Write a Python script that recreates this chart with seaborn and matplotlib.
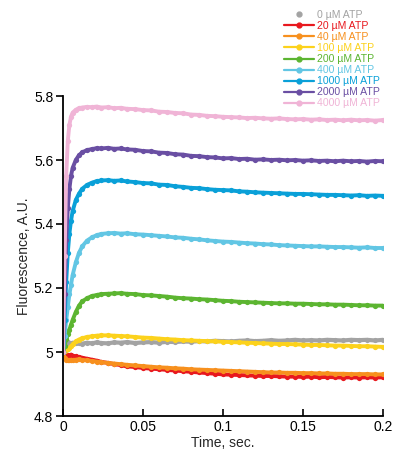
import matplotlib
matplotlib.use("Agg")
import matplotlib.pyplot as plt
from matplotlib.lines import Line2D
import seaborn as sns
import pandas as pd

time_s = [0, 0.001, 0.002, 0.003, 0.004, 0.005, 0.006, 0.008, 0.010, 0.012,
          0.015, 0.018, 0.021, 0.024, 0.028, 0.032, 0.036, 0.040, 0.045, 0.050,
          0.055, 0.060, 0.065, 0.070, 0.075, 0.080, 0.085, 0.090, 0.095, 0.100,
          0.105, 0.110, 0.115, 0.120, 0.125, 0.130, 0.135, 0.140, 0.145, 0.150,
          0.155, 0.160, 0.165, 0.170, 0.175, 0.180, 0.185, 0.190, 0.195, 0.200]

atp_0 = [5.000, 5.022, 5.027, 5.030, 5.028, 5.026, 5.029, 5.027, 5.028, 5.026,
         5.029, 5.027, 5.030, 5.028, 5.027, 5.030, 5.029, 5.031, 5.028, 5.030,
         5.031, 5.029, 5.032, 5.031, 5.033, 5.032, 5.034, 5.033, 5.035, 5.034,
         5.033, 5.035, 5.036, 5.034, 5.035, 5.037, 5.035, 5.036, 5.038, 5.036,
         5.037, 5.036, 5.038, 5.037, 5.036, 5.038, 5.037, 5.038, 5.036, 5.038]
atp_20 = [5.000, 4.995, 4.992, 4.990, 4.989, 4.992, 4.988, 4.986, 4.984, 4.982,
          4.979, 4.976, 4.973, 4.969, 4.966, 4.962, 4.959, 4.955, 4.953, 4.950,
          4.948, 4.946, 4.944, 4.942, 4.940, 4.938, 4.936, 4.934, 4.932, 4.930,
          4.929, 4.928, 4.927, 4.926, 4.925, 4.925, 4.924, 4.923, 4.923, 4.922,
          4.923, 4.921, 4.922, 4.921, 4.920, 4.921, 4.920, 4.921, 4.920, 4.921]
atp_40 = [4.990, 4.980, 4.976, 4.975, 4.974, 4.976, 4.975, 4.976, 4.977, 4.975,
          4.974, 4.972, 4.970, 4.968, 4.966, 4.964, 4.962, 4.960, 4.958, 4.956,
          4.954, 4.952, 4.951, 4.949, 4.948, 4.946, 4.945, 4.944, 4.943, 4.942,
          4.941, 4.940, 4.939, 4.938, 4.937, 4.936, 4.936, 4.935, 4.935, 4.934,
          4.934, 4.933, 4.933, 4.932, 4.932, 4.931, 4.931, 4.931, 4.930, 4.930]
atp_100 = [5.000, 5.003, 5.006, 5.009, 5.012, 5.018, 5.024, 5.033, 5.039, 5.043,
           5.047, 5.049, 5.051, 5.052, 5.052, 5.051, 5.050, 5.049, 5.047, 5.045,
           5.044, 5.042, 5.040, 5.039, 5.037, 5.036, 5.035, 5.034, 5.033, 5.032,
           5.031, 5.030, 5.029, 5.028, 5.027, 5.026, 5.025, 5.025, 5.024, 5.023,
           5.022, 5.022, 5.021, 5.020, 5.020, 5.019, 5.018, 5.018, 5.017, 5.016]
atp_200 = [5.000, 5.020, 5.040, 5.055, 5.070, 5.085, 5.100, 5.125, 5.145, 5.158,
           5.168, 5.175, 5.178, 5.181, 5.182, 5.183, 5.184, 5.182, 5.181, 5.178,
           5.177, 5.175, 5.173, 5.170, 5.168, 5.167, 5.165, 5.164, 5.162, 5.160,
           5.159, 5.157, 5.156, 5.155, 5.154, 5.153, 5.152, 5.152, 5.151, 5.151,
           5.150, 5.149, 5.149, 5.148, 5.148, 5.147, 5.146, 5.146, 5.145, 5.145]
atp_400 = [5.000, 5.050, 5.100, 5.140, 5.180, 5.210, 5.240, 5.280, 5.310, 5.330,
           5.348, 5.358, 5.365, 5.369, 5.371, 5.372, 5.370, 5.371, 5.368, 5.367,
           5.365, 5.363, 5.361, 5.358, 5.357, 5.354, 5.352, 5.349, 5.347, 5.345,
           5.344, 5.342, 5.340, 5.339, 5.337, 5.336, 5.334, 5.333, 5.332, 5.331,
           5.330, 5.330, 5.329, 5.328, 5.328, 5.327, 5.326, 5.327, 5.325, 5.325]
atp_1000 = [5.000, 5.100, 5.220, 5.310, 5.370, 5.410, 5.440, 5.475, 5.495, 5.510,
            5.522, 5.529, 5.534, 5.536, 5.537, 5.535, 5.536, 5.533, 5.531, 5.528,
            5.527, 5.523, 5.522, 5.518, 5.516, 5.513, 5.512, 5.509, 5.507, 5.506,
            5.505, 5.502, 5.501, 5.499, 5.498, 5.497, 5.496, 5.495, 5.494, 5.494,
            5.493, 5.492, 5.491, 5.491, 5.490, 5.489, 5.490, 5.488, 5.489, 5.488]
atp_2000 = [5.000, 5.180, 5.350, 5.450, 5.510, 5.550, 5.575, 5.600, 5.615, 5.624,
            5.631, 5.634, 5.637, 5.636, 5.638, 5.635, 5.636, 5.633, 5.632, 5.628,
            5.627, 5.623, 5.622, 5.618, 5.617, 5.613, 5.612, 5.609, 5.608, 5.605,
            5.606, 5.603, 5.604, 5.601, 5.602, 5.600, 5.601, 5.599, 5.600, 5.598,
            5.599, 5.597, 5.598, 5.596, 5.598, 5.596, 5.597, 5.595, 5.597, 5.596]
atp_4000 = [5.000, 5.300, 5.550, 5.660, 5.710, 5.735, 5.748, 5.757, 5.762, 5.764,
            5.766, 5.765, 5.767, 5.764, 5.765, 5.762, 5.763, 5.760, 5.759, 5.756,
            5.755, 5.751, 5.750, 5.747, 5.746, 5.742, 5.741, 5.738, 5.737, 5.735,
            5.734, 5.733, 5.731, 5.732, 5.730, 5.729, 5.730, 5.728, 5.727, 5.728,
            5.726, 5.727, 5.725, 5.726, 5.724, 5.726, 5.724, 5.725, 5.723, 5.725]

labels = ["0 µM ATP", "20 µM ATP", "40 µM ATP", "100 µM ATP", "200 µM ATP",
          "400 µM ATP", "1000 µM ATP", "2000 µM ATP", "4000 µM ATP"]
series = [atp_0, atp_20, atp_40, atp_100, atp_200, atp_400, atp_1000, atp_2000, atp_4000]
colors = ["#a3a3a3", "#e8181e", "#f7901e", "#fcd21c", "#5cb531", "#62c6e4",
          "#0aa0d8", "#6a4fa3", "#f0b4d6"]
x_ticks = [0, 0.05, 0.1, 0.15, 0.2]
x_tick_labels = ["0", "0.05", "0.1", "0.15", "0.2"]
y_ticks = [4.8, 5.0, 5.2, 5.4, 5.6, 5.8]
y_tick_labels = ["4.8", "5", "5.2", "5.4", "5.6", "5.8"]

sns.set_theme(style="white")
plt.rcParams["font.family"] = ["Liberation Sans", "DejaVu Sans"]

fig = plt.figure(figsize=(3.96, 4.59), dpi=100)
ax = fig.add_axes([63 / 396, 1 - 416 / 459, 320 / 396, 320 / 459])

for lab, vals, col in zip(labels, series, colors):
    df = pd.DataFrame({"t": time_s, "f": vals})
    if lab.startswith("0 "):
        sns.scatterplot(data=df, x="t", y="f", color=col, s=14, linewidth=0, ax=ax)
        sns.lineplot(data=df, x="t", y="f", color=col, lw=3.0, ax=ax)
    else:
        sns.lineplot(data=df, x="t", y="f", color=col, lw=2.8, marker="o",
                     markersize=3.8, markeredgewidth=0, ax=ax)

ax.set_xlim(0, 0.2)
ax.set_ylim(4.8, 5.8)
ax.set_xticks(x_ticks)
ax.set_xticklabels(x_tick_labels)
ax.set_yticks(y_ticks)
ax.set_yticklabels(y_tick_labels)
ax.set_xlabel("Time, sec.", fontsize=10, labelpad=1)
ax.set_ylabel("Fluorescence, A.U.", fontsize=10, labelpad=2)
for s in ["top", "right"]:
    ax.spines[s].set_visible(False)
for s in ["left", "bottom"]:
    ax.spines[s].set_color("black")
    ax.spines[s].set_linewidth(1.3)
ax.tick_params(axis="y", direction="out", length=5, width=1.2, labelsize=10,
               left=True, pad=2, colors="black")
ax.tick_params(axis="x", direction="in", length=5, width=1.2, labelsize=10,
               bottom=True, pad=3, colors="black")
ax.grid(False)

handles = []
for lab, col in zip(labels, colors):
    if lab.startswith("0 "):
        handles.append(Line2D([0], [0], color=col, lw=0, marker="o", markersize=3.5))
    else:
        handles.append(Line2D([0], [0], color=col, lw=1.6, marker="o", markersize=3.5))
leg = fig.legend(handles, labels, loc="upper left",
                 bbox_to_anchor=(284 / 396, 1 - 10 / 459), frameon=False,
                 fontsize=7.6, handlelength=2.8, handletextpad=0.35,
                 labelspacing=0.1, borderpad=0, borderaxespad=0)
for txt, col in zip(leg.get_texts(), colors):
    txt.set_color(col)

fig.savefig("out.png", dpi=100)
